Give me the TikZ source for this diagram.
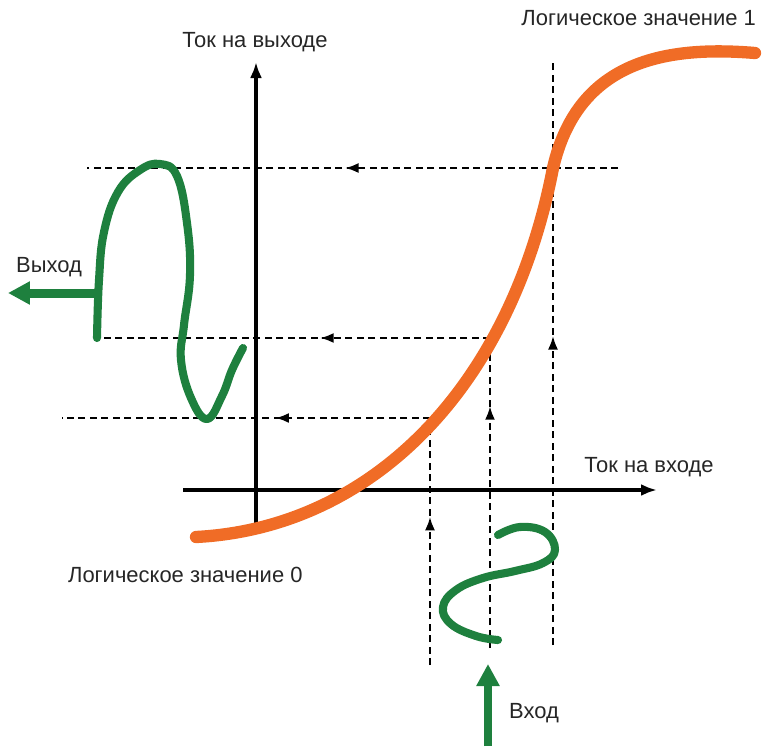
\documentclass[tikz,border=0pt]{standalone}
\usepackage{fontspec}
\setmainfont{Liberation Sans}
\usetikzlibrary{arrows.meta,decorations.markings}
\definecolor{curveorange}{RGB}{240,108,38}
\definecolor{wavegreen}{RGB}{30,128,62}
\tikzset{
  axisline/.style={line width=2.3pt, -{Latex[length=3.2mm,width=2.4mm]}},
  guideline/.style={line width=1.3pt, dash pattern=on 1.4mm off 0.9mm},
  midarrow/.style={guideline, postaction={decorate},
    decoration={markings, mark=at position #1 with {\arrow{Latex[length=2.7mm,width=2mm]}}}},
  transfer/.style={line width=7pt, color=curveorange, line cap=round},
  wave/.style={line width=4.6pt, color=wavegreen, line cap=round, line join=round},
  bigarrow/.style={line width=1.8mm, color=wavegreen, -{Triangle[length=4.4mm,width=4.4mm]}},
  axlabel/.style={font=\fontsize{12.5}{14}\selectfont, text=black!85, inner sep=1pt}
}

\begin{document}
\begin{tikzpicture}[x=0.02cm, y=-0.02cm]
  \useasboundingbox (0,0) rectangle (769,748);

  % axes
  \coordinate (origin) at (256,490);
  \coordinate (ybot) at (256,528);
  \coordinate (ytop) at (256,62);
  \coordinate (xleft) at (183,490);
  \coordinate (xright) at (657,490);
  \draw[axisline] (ybot) -- (ytop);
  \draw[axisline] (xleft) -- (xright);

  % guide lines: output levels
  \coordinate (hi1) at (618,168);  \coordinate (hi0) at (87,168);
  \coordinate (mid1) at (490,338); \coordinate (mid0) at (95,338);
  \coordinate (lo1) at (430,418);  \coordinate (lo0) at (62,418);
  \draw[midarrow=0.514] (hi1) -- (hi0);
  \draw[midarrow=0.43] (mid1) -- (mid0);
  \draw[midarrow=0.42] (lo1) -- (lo0);

  % guide lines: input levels
  \coordinate (lo2) at (430,665);
  \coordinate (mid2) at (490,648);
  \coordinate (hi2) at (553,645);  \coordinate (hi3) at (553,62);
  \draw[midarrow=0.6] (lo2) -- (lo1);
  \draw[midarrow=0.78] (mid2) -- (mid1);
  \draw[midarrow=0.53] (hi2) -- (hi3);

  % transfer curve
  \coordinate (low) at (196,537);
  \coordinate (bend) at (553,168);
  \coordinate (high) at (755,53);
  \draw[transfer] (low) .. controls (370,528) and (510,390) .. (bend)
    .. controls (577,64) and (660,45) .. (high);

  % output wave
  \draw[wave] plot[smooth, tension=0.7] coordinates {
    (97,338) (99,280) (104,232) (118,192) (140,170) (160,164)
    (177,176) (187,223) (190,275) (184,325) (181,360) (191,398)
    (207,419) (222,396) (232,370) (243,348)};

  % input wave
  \draw[wave] plot[smooth, tension=0.7] coordinates {
    (498,535) (520,527) (545,532) (555,550) (543,563) (515,571)
    (483,578) (456,590) (443,607) (451,624) (476,636) (498,640)};

  % big arrows
  \coordinate (outtail) at (95,293);
  \coordinate (outhead) at (8,293);
  \coordinate (intail) at (488,746);
  \coordinate (inhead) at (488,664);
  \draw[bigarrow] (outtail) -- (outhead);
  \draw[bigarrow] (intail) -- (inhead);

  % labels
  \node[axlabel] (outaxis) at (255,42) {Ток на выходе};
  \node[axlabel] (inaxis) at (649,467) {Ток на входе};
  \node[axlabel, anchor=east] (logic1) at (758,18) {Логическое значение 1};
  \node[axlabel, anchor=west] (logic0) at (66,575) {Логическое значение 0};
  \node[axlabel] (outtext) at (49,267) {Выход};
  \node[axlabel] (intext) at (534,713) {Вход};
\end{tikzpicture}
\end{document}
